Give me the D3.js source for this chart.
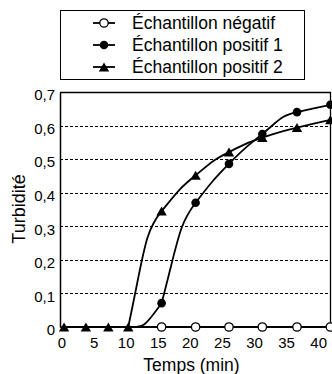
<!DOCTYPE html>
<html>
<head>
<meta charset="utf-8">
<script src="https://cdn.jsdelivr.net/npm/d3@7"></script>
<style>
  body { margin: 0; background: #fff; }
  svg { display: block; }
  text { font-family: "Liberation Sans", Arial, sans-serif; fill: #000; }
</style>
</head>
<body>
<svg id="chart" width="332" height="374"></svg>
<script>
// values
const times = [0.4, 3.8, 7.3, 10.4, 15.6, 20.9, 26.1, 31.3, 36.7, 41.9]
const negatif = [0, 0, 0, 0, 0, 0, 0, 0, 0, 0]
const positif1 = [0, 0, 0, 0, 0.071, 0.370, 0.486, 0.575, 0.640, 0.662]
const positif2 = [0, 0, 0, 0, 0.345, 0.452, 0.521, 0.564, 0.594, 0.617]
const seriesNames = ["Échantillon négatif", "Échantillon positif 1", "Échantillon positif 2"]
const markerKinds = ["open", "dot", "tri"]
const xTicks = [0, 5, 10, 15, 20, 25, 30, 35, 40]
const yTicks = [0, 0.1, 0.2, 0.3, 0.4, 0.5, 0.6, 0.7]

const plot = { left: 60, right: 331, top: 92, bottom: 327 }

const svg = d3.select("#chart")

const x = d3.scaleLinear().domain([0, 42]).range([61.5, 331])
const y = d3.scaleLinear().domain([0, 0.7]).range([plot.bottom, plot.top])

const fr = d3.formatLocale({ decimal: ",", thousands: " ", grouping: [3], currency: ["", " €"] })
const fmt = fr.format(".1~f")

// dashed gridlines
svg.append("g").selectAll("line")
  .data(yTicks.filter(d => d > 0 && d < 0.7))
  .enter().append("line")
  .attr("x1", plot.left).attr("x2", plot.right)
  .attr("y1", d => Math.round(y(d)) + 0.5).attr("y2", d => Math.round(y(d)) + 0.5)
  .attr("stroke", "#000").attr("stroke-width", 1)
  .attr("stroke-dasharray", "3,2")

// frame top/right
svg.append("path")
  .attr("d", `M${plot.left},${plot.top + 0.5}H${plot.right - 0.5}V${plot.bottom}`)
  .attr("fill", "none").attr("stroke", "#000").attr("stroke-width", 1.3)

// axes
const yAxis = d3.axisLeft(y).tickValues(yTicks).tickSize(0).tickPadding(5).tickFormat(fmt)
const gy = svg.append("g").attr("transform", `translate(${plot.left},0)`).call(yAxis)
gy.select(".domain").attr("stroke", "#000").attr("stroke-width", 1.5)
gy.selectAll("text").attr("font-size", 15).attr("dy", "0.52em")
  .style("font-family", '"Liberation Sans", Arial, sans-serif')

const xAxis = d3.axisBottom(x).tickValues(xTicks).tickSize(0).tickPadding(10)
const gx = svg.append("g").attr("transform", `translate(0,${plot.bottom})`).call(xAxis)
gx.select(".domain").remove()
gx.selectAll("text").attr("font-size", 15)
  .style("font-family", '"Liberation Sans", Arial, sans-serif')

svg.append("line")
  .attr("x1", plot.left).attr("x2", plot.right)
  .attr("y1", plot.bottom).attr("y2", plot.bottom)
  .attr("stroke", "#000").attr("stroke-width", 1.5)

// smoothing: tangent from the next two points, control points kept
// inside the segment's vertical range so flat stretches stay flat
function forwardCurve(context) {
  const k = 0.5
  let pts
  return {
    areaStart() {}, areaEnd() {},
    lineStart() { pts = [] },
    point(px, py) { pts.push([+px, +py]) },
    lineEnd() {
      const n = pts.length
      const T = pts.map((p, i) => {
        if (i === n - 1) return [p[0] - pts[i - 1][0], p[1] - pts[i - 1][1]]
        const a = pts[i + 1]
        if (i === n - 2) return [a[0] - p[0], a[1] - p[1]]
        const b = pts[i + 2]
        return [(-3 * p[0] + 4 * a[0] - b[0]) / 2, (-3 * p[1] + 4 * a[1] - b[1]) / 2]
      })
      context.moveTo(pts[0][0], pts[0][1])
      for (let i = 0; i < n - 1; i++) {
        const p = pts[i], q = pts[i + 1]
        const lo = Math.min(p[1], q[1]), hi = Math.max(p[1], q[1])
        const cl = v => Math.max(lo, Math.min(hi, v))
        context.bezierCurveTo(
          p[0] + T[i][0] * k, cl(p[1] + T[i][1] * k),
          q[0] - T[i + 1][0] * k, cl(q[1] - T[i + 1][1] * k),
          q[0], q[1])
      }
    }
  }
}

// series
const allSeries = [negatif, positif1, positif2]
const line = d3.line()
  .x((d, i) => x(times[i]))
  .y(d => y(d))
  .curve(forwardCurve)

function drawMarker(g, kind, cx, cy) {
  if (kind === "open") {
    g.append("circle").attr("cx", cx).attr("cy", cy).attr("r", 4.2)
      .attr("fill", "#fff").attr("stroke", "#000").attr("stroke-width", 1.3)
  } else if (kind === "dot") {
    g.append("circle").attr("cx", cx).attr("cy", cy).attr("r", 4.3).attr("fill", "#000")
  } else {
    g.append("path")
      .attr("d", `M${cx},${cy - 4.6}L${cx + 5.2},${cy + 4.4}L${cx - 5.2},${cy + 4.4}Z`)
      .attr("fill", "#000")
  }
}

allSeries.forEach(vals => {
  svg.append("path")
    .attr("d", line(vals))
    .attr("fill", "none").attr("stroke", "#000").attr("stroke-width", 1.8)
})
// a marker sitting exactly under a later series' marker is not shown
const covered = (s, i) => allSeries.slice(s + 1).some(v => v[i] === allSeries[s][i])
allSeries.forEach((vals, s) => {
  const g = svg.append("g")
  vals.forEach((v, i) => {
    if (!covered(s, i)) drawMarker(g, markerKinds[s], x(times[i]), y(v))
  })
})

// axis titles
svg.append("text")
  .attr("transform", "translate(25,209) rotate(-90)")
  .attr("text-anchor", "middle").attr("font-size", 18)
  .text("Turbidité")
svg.append("text")
  .attr("x", 191.5).attr("y", 371)
  .attr("text-anchor", "middle").attr("font-size", 17.5)
  .text("Temps (min)")

// legend
const lg = svg.append("g")
lg.append("rect").attr("x", 60.5).attr("y", 10.5).attr("width", 244).attr("height", 69)
  .attr("fill", "#fff").attr("stroke", "#000").attr("stroke-width", 1)
seriesNames.forEach((name, i) => {
  const ry = 23 + i * 22
  lg.append("line").attr("x1", 93).attr("x2", 115).attr("y1", ry).attr("y2", ry)
    .attr("stroke", "#000").attr("stroke-width", 1.8)
  drawMarker(lg, markerKinds[i], 104, ry)
  lg.append("text").attr("x", 132).attr("y", ry + 6)
    .attr("font-size", 17.5).text(name)
})
</script>
</body>
</html>
